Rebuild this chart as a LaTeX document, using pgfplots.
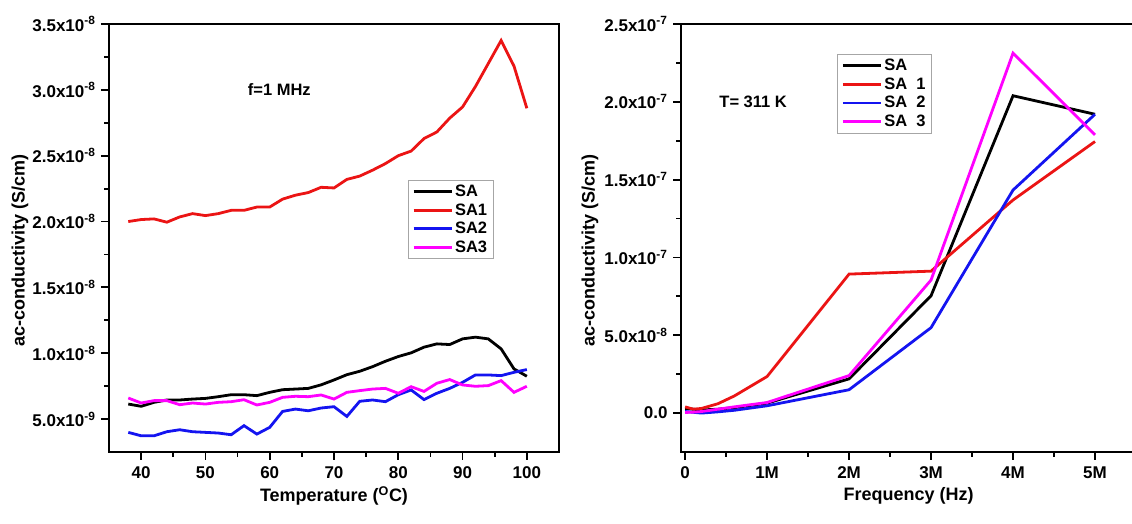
\documentclass[border=0pt]{standalone}
\usepackage{fontspec}
\setmainfont{Liberation Sans}
\usepackage{pgfplots}
\pgfplotsset{compat=1.18}
\definecolor{cRed}{RGB}{235,20,20}
\definecolor{cBlue}{RGB}{20,20,240}
\definecolor{cMag}{RGB}{255,0,255}
\pgfplotsset{
  myax/.style={
    scale only axis,
    axis line style={line width=2.2pt},
    tick style={line width=1.8pt, black},
    tick align=outside,
    major tick length=8pt,
    minor tick length=5pt,
    xtick pos=bottom, ytick pos=left,
    scaled x ticks=false, scaled y ticks=false,
    tick label style={font=\fontsize{17}{19}\selectfont\bfseries},
    label style={font=\fontsize{18}{20}\selectfont\bfseries},
    xticklabel style={yshift=-3pt},
    yticklabel style={xshift=-2pt},
    legend cell align=left,
    legend style={draw=gray!70, line width=0.8pt, fill=white,
      font=\fontsize{16.5}{19}\selectfont\bfseries,
      inner xsep=4pt, inner ysep=3pt, row sep=1.5pt},
    legend image code/.code={\draw[#1, line width=2.8pt] (0pt,0pt) -- (38pt,0pt);},
  }
}
\pgfplotstableread{
T SA SA1 SA2 SA3
38 6.14e-9 2.000e-8 3.99e-9 6.60e-9
40 5.97e-9 2.015e-8 3.73e-9 6.22e-9
42 6.27e-9 2.020e-8 3.73e-9 6.40e-9
44 6.45e-9 1.995e-8 4.04e-9 6.40e-9
46 6.45e-9 2.035e-8 4.19e-9 6.09e-9
48 6.52e-9 2.060e-8 4.04e-9 6.22e-9
50 6.57e-9 2.045e-8 3.99e-9 6.14e-9
52 6.70e-9 2.060e-8 3.94e-9 6.27e-9
54 6.85e-9 2.085e-8 3.81e-9 6.32e-9
56 6.85e-9 2.085e-8 4.50e-9 6.47e-9
58 6.78e-9 2.110e-8 3.86e-9 6.07e-9
60 7.03e-9 2.110e-8 4.37e-9 6.27e-9
62 7.23e-9 2.170e-8 5.58e-9 6.65e-9
64 7.28e-9 2.200e-8 5.76e-9 6.73e-9
66 7.33e-9 2.220e-8 5.63e-9 6.70e-9
68 7.60e-9 2.260e-8 5.84e-9 6.83e-9
70 7.97e-9 2.255e-8 5.94e-9 6.52e-9
72 8.37e-9 2.320e-8 5.20e-9 7.03e-9
74 8.63e-9 2.345e-8 6.35e-9 7.16e-9
76 8.98e-9 2.390e-8 6.45e-9 7.28e-9
78 9.39e-9 2.440e-8 6.32e-9 7.33e-9
80 9.75e-9 2.500e-8 6.85e-9 6.96e-9
82 1.003e-8 2.535e-8 7.21e-9 7.46e-9
84 1.046e-8 2.630e-8 6.48e-9 7.10e-9
86 1.071e-8 2.680e-8 6.96e-9 7.72e-9
88 1.066e-8 2.785e-8 7.33e-9 8.00e-9
90 1.109e-8 2.870e-8 7.79e-9 7.59e-9
92 1.122e-8 3.025e-8 8.35e-9 7.49e-9
94 1.109e-8 3.200e-8 8.35e-9 7.54e-9
96 1.033e-8 3.375e-8 8.30e-9 7.92e-9
98 8.81e-9 3.180e-8 8.55e-9 7.03e-9
100 8.25e-9 2.860e-8 8.76e-9 7.49e-9
}\tempdata
\pgfplotstableread{
F SA SA1 SA2 SA3
0 3.0e-9 4.0e-9 1.0e-9 0.4e-9
100000 2.5e-9 2.5e-9 0.5e-9 0.6e-9
200000 2.0e-9 3.0e-9 0.0 1.0e-9
400000 2.5e-9 6.0e-9 0.8e-9 2.5e-9
600000 3.5e-9 1.1e-8 1.8e-9 4.0e-9
1000000 6.4e-9 2.35e-8 4.7e-9 6.8e-9
2000000 2.20e-8 8.93e-8 1.50e-8 2.41e-8
3000000 7.54e-8 9.12e-8 5.49e-8 8.55e-8
4000000 2.039e-7 1.369e-7 1.433e-7 2.313e-7
5000000 1.920e-7 1.745e-7 1.920e-7 1.788e-7
}\freqdata
\begin{document}
\begin{tikzpicture}
\useasboundingbox (0pt,0pt) rectangle (1132pt,524pt);
\begin{axis}[myax,
  at={(109pt,72pt)}, anchor=south west,
  width=450pt, height=428pt,
  xmin=35, xmax=105, ymin=2.5e-9, ymax=3.5e-8,
  xtick={40,50,60,70,80,90,100},
  xticklabels={40,50,60,70,80,90,100},
  minor x tick num=1,
  ytick={5e-9,1e-8,1.5e-8,2e-8,2.5e-8,3e-8,3.5e-8},
  yticklabels={5.0x10\textsuperscript{-9},1.0x10\textsuperscript{-8},1.5x10\textsuperscript{-8},2.0x10\textsuperscript{-8},2.5x10\textsuperscript{-8},3.0x10\textsuperscript{-8},3.5x10\textsuperscript{-8}},
  minor y tick num=1,
  xlabel={Temperature (\textsuperscript{O}C)},
  ylabel={ac-conductivity (S/cm)},
  xlabel style={at={(axis description cs:0.5,-0.102)}, anchor=center},
  ylabel style={at={(axis description cs:-0.198,0.47)}, anchor=center},
  legend style={at={(0.664,0.636)}, anchor=north west},
]
\addplot[black, line width=2.8pt] table[x=T,y=SA] {\tempdata};
\addplot[cRed, line width=2.8pt] table[x=T,y=SA1] {\tempdata};
\addplot[cBlue, line width=2.8pt] table[x=T,y=SA2] {\tempdata};
\addplot[cMag, line width=2.8pt] table[x=T,y=SA3] {\tempdata};
\legend{SA,SA1,SA2,SA3}
\node[font=\fontsize{16.5}{19}\selectfont\bfseries] at (axis cs:61.5,3.0e-8) {f=1 MHz};
\end{axis}
\begin{axis}[myax,
  at={(681pt,72pt)}, anchor=south west,
  width=455pt, height=428pt,
  xmin=-50000, xmax=5500000, ymin=-2.5e-8, ymax=2.5e-7,
  xtick={0,1000000,2000000,3000000,4000000,5000000},
  xticklabels={0,1M,2M,3M,4M,5M},
  minor x tick num=1,
  ytick={0,5e-8,1e-7,1.5e-7,2e-7,2.5e-7},
  yticklabels={0.0,5.0x10\textsuperscript{-8},1.0x10\textsuperscript{-7},1.5x10\textsuperscript{-7},2.0x10\textsuperscript{-7},2.5x10\textsuperscript{-7}},
  minor y tick num=1,
  xlabel={Frequency (Hz)},
  ylabel={ac-conductivity (S/cm)},
  xlabel style={at={(axis description cs:0.5,-0.102)}, anchor=center},
  ylabel style={at={(axis description cs:-0.2,0.47)}, anchor=center},
  legend style={at={(0.343,0.930)}, anchor=north west},
]
\addplot[black, line width=2.8pt] table[x=F,y=SA] {\freqdata};
\addplot[cRed, line width=2.8pt] table[x=F,y=SA1] {\freqdata};
\addplot[cBlue, line width=2.8pt] table[x=F,y=SA2] {\freqdata};
\addplot[cMag, line width=2.8pt] table[x=F,y=SA3] {\freqdata};
\legend{SA,SA\ \ 1,SA\ \ 2,SA\ \ 3}
\node[font=\fontsize{16.5}{19}\selectfont\bfseries] at (axis cs:830000,2.0e-7) {T= 311 K};
\end{axis}
\end{tikzpicture}
\end{document}
